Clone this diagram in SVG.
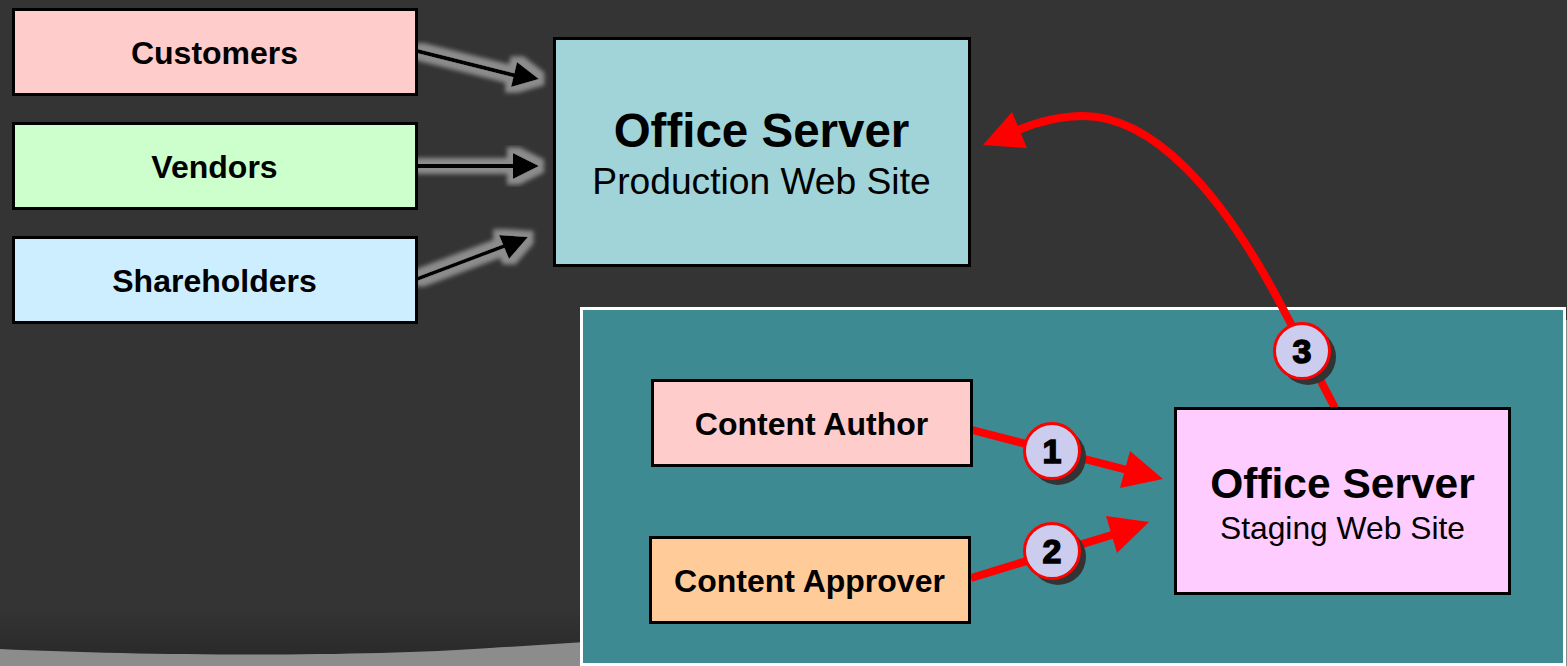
<svg xmlns="http://www.w3.org/2000/svg" width="1567" height="666" viewBox="0 0 1567 666">
<defs>
<linearGradient id="bg" x1="0" y1="0" x2="0" y2="1"><stop offset="0" stop-color="#343434"/><stop offset="0.93" stop-color="#343434"/><stop offset="1" stop-color="#2a2a2a"/></linearGradient>
<filter id="glow" x="-30%" y="-30%" width="160%" height="160%" filterUnits="objectBoundingBox">
<feMorphology in="SourceAlpha" operator="dilate" radius="6"/>
<feGaussianBlur stdDeviation="2.2" result="b"/>
<feFlood flood-color="#8c8c8c"/><feComposite in2="b" operator="in"/>
<feMerge><feMergeNode/><feMergeNode in="SourceGraphic"/></feMerge>
</filter>
</defs>
<style>
.box{stroke:#000;stroke-width:3}
text{font-family:"Liberation Sans",Arial,sans-serif;fill:#000;text-anchor:middle}
.lbl{font-size:32px;font-weight:700}
.big{font-size:47.500px;font-weight:700}
.bl{stroke:#000;stroke-width:4;fill:none}
.red{stroke:#f00;stroke-width:8;fill:none}
.badge{fill:#ccccee;stroke:#f00;stroke-width:3}
.shadow{fill:#333}
.num{font-family:"Liberation Sans",Arial,sans-serif;font-size:34px;font-weight:700;stroke:#000;stroke-width:1.500}
</style>
<rect width="1567" height="666" fill="#8c8c8c"/>
<path d="M0 649 C150 656 360 657 490 648 Q540 645 585 642 L585 0 L0 0Z M585 0H1567V320H585Z" fill="url(#bg)"/>
<rect id="stage-panel" x="581.500" y="308.500" width="983" height="356" fill="#3e8a93" stroke="#fff" stroke-width="3"/>
<g id="connectors">
<g filter="url(#glow)"><path class="bl" d="M417 51L517 76"/><path d="M539 79L517 62L511 87Z"/></g>
<g filter="url(#glow)"><path class="bl" d="M417 166H515"/><path d="M539 166L513 153V179Z"/></g>
<g filter="url(#glow)"><path class="bl" d="M417 279L507 245"/><path d="M528 237L499 235L509 259Z"/></g>
<path class="red" d="M972 430L1135 472"/><path d="M1163 479L1130 451L1120 488Z" fill="#f00"/>
<path class="red" d="M971 578L1125 531"/><path d="M1149 522L1106 516L1117 553Z" fill="#f00"/>
<path class="red" d="M1335 408L1280 303C1220 190 1152 116 1083 116C1060 116 1040 121 1018 130"/><path d="M983 145L1012 112L1027 148Z" fill="#f00"/>
</g>
<g id="customers"><rect class="box" x="13.500" y="9.500" width="403" height="85" fill="#ffcccc"/><text class="lbl" x="214.500" y="64">Customers</text></g>
<g id="vendors"><rect class="box" x="13.500" y="123.500" width="403" height="85" fill="#ccffcc"/><text class="lbl" x="214.500" y="178">Vendors</text></g>
<g id="shareholders"><rect class="box" x="13.500" y="237.500" width="403" height="85" fill="#cceeff"/><text class="lbl" x="214.500" y="292">Shareholders</text></g>
<g id="production"><rect class="box" x="554.500" y="38.500" width="415" height="227" fill="#a0d4d8"/><text class="big" x="761.500" y="147">Office Server</text><text x="761.500" y="194" font-size="37.200">Production Web Site</text></g>
<g id="content-author"><rect class="box" x="652.500" y="380.500" width="319" height="85" fill="#ffcccc"/><text class="lbl" x="811.500" y="435">Content Author</text></g>
<g id="content-approver"><rect class="box" x="650.500" y="537.500" width="319" height="85" fill="#ffcc99"/><text class="lbl" x="809.500" y="592">Content Approver</text></g>
<g id="staging"><rect class="box" x="1175.500" y="408.500" width="334" height="185" fill="#ffccff"/><text x="1342.500" y="498" font-size="42.500" font-weight="700">Office Server</text><text x="1342.500" y="539" font-size="31.800">Staging Web Site</text></g>
<g id="badge-1"><circle class="shadow" cx="1058" cy="457" r="28"/><circle class="badge" cx="1052" cy="451" r="27.500"/><text class="num" x="1052" y="463">1</text></g>
<g id="badge-2"><circle class="shadow" cx="1058" cy="557" r="28"/><circle class="badge" cx="1052" cy="551" r="27.500"/><text class="num" x="1052" y="563">2</text></g>
<g id="badge-3"><circle class="shadow" cx="1308" cy="357" r="28"/><circle class="badge" cx="1302" cy="351" r="27.500"/><text class="num" x="1302" y="363">3</text></g>
</svg>
